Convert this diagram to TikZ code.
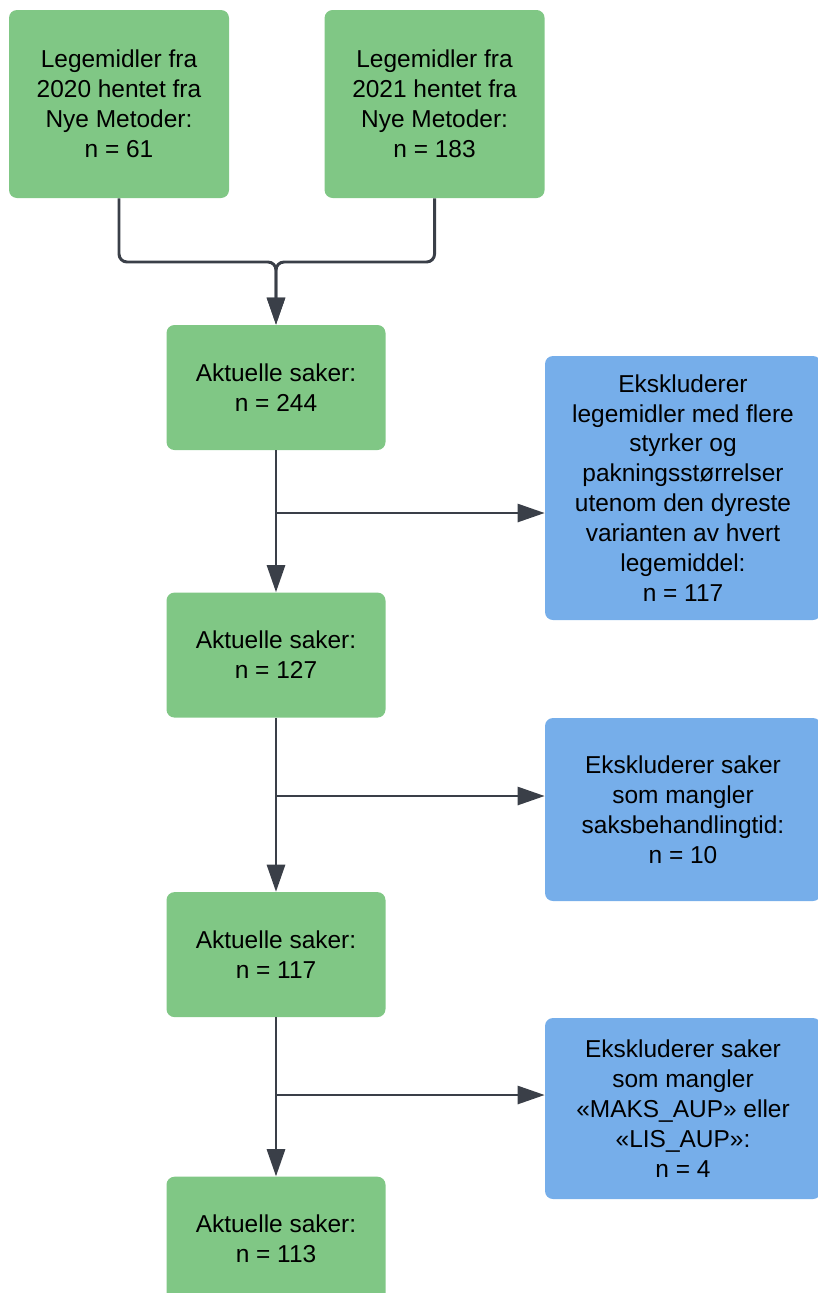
\documentclass[tikz,border=0pt]{standalone}
\usepackage{fontspec}
\setmainfont{Liberation Sans}
\usepackage{tikz}
\usetikzlibrary{arrows.meta, positioning}

\definecolor{boxgreen}{HTML}{80C785}
\definecolor{boxblue}{HTML}{76AEEA}
\definecolor{linegray}{HTML}{3A3F48}

\begin{document}
\begin{tikzpicture}[
    node distance=2.375cm,
    greenbox/.style={fill=boxgreen, rounded corners=0.2cm, minimum width=5.475cm, minimum height=3.125cm, align=center, inner sep=0pt},
    topbox/.style={greenbox, minimum width=5.5cm, minimum height=4.7cm},
    exclbox/.style={fill=boxblue, rounded corners=0.2cm, minimum width=6.9cm, align=center, inner sep=0pt},
    ar/.style={-{Triangle[length=0.68cm, width=0.45cm]}, line width=2.1pt, draw=linegray},
    ln/.style={line width=2.1pt, draw=linegray},
    font=\fontsize{17.4}{21.3}\selectfont
]
\useasboundingbox (0,0) rectangle (20.45,-32.325);
% sources
\node[topbox] (y2020) at (2.975,-2.6) {Legemidler fra\\2020 hentet fra\\Nye Metoder:\\n = 61};
\node[topbox, right=of y2020] (y2021) {Legemidler fra\\2021 hentet fra\\Nye Metoder:\\n = 183};
% main column
\node[greenbox] (akt1) at (6.9,-9.6875) {Aktuelle saker:\\n = 244};
\node[greenbox, below=3.55cm of akt1] (akt2) {Aktuelle saker:\\n = 127};
\node[greenbox, below=4.35cm of akt2] (akt3) {Aktuelle saker:\\n = 117};
\node[greenbox, below=3.975cm of akt3] (akt4) {Aktuelle saker:\\n = 113};
% exclusions
\node[exclbox, minimum height=6.6cm] (eks1) at (17.075,-12.2) {Ekskluderer\\legemidler med flere\\styrker og\\pakningsstørrelser\\utenom den dyreste\\varianten av hvert\\legemiddel:\\n = 117};
\node[exclbox, minimum height=4.575cm] (eks2) at (17.075,-20.2375) {Ekskluderer saker\\som mangler\\saksbehandlingtid:\\n = 10};
\node[exclbox, minimum height=4.525cm] (eks3) at (17.075,-27.7125) {Ekskluderer saker\\som mangler\\«MAKS\_AUP» eller\\«LIS\_AUP»:\\n = 4};
% junctions
\coordinate (merge) at (6.9,-6.55);
\coordinate (b1) at (6.9,-12.825);
\coordinate (b2) at (6.9,-19.9);
\coordinate (b3) at (6.9,-27.375);
% merge arrows
\draw[ar, rounded corners=0.2cm] (y2020.south) |- (merge) -- (akt1.north);
\draw[ar, rounded corners=0.2cm] (y2021.south) |- (merge) -- (akt1.north);
% down arrows
\draw[ar] (akt1) -- (akt2);
\draw[ar] (akt2) -- (akt3);
\draw[ar] (akt3) -- (akt4);
% side arrows
\draw[ar] (b1) -- (eks1.west |- b1);
\draw[ar] (b2) -- (eks2.west |- b2);
\draw[ar] (b3) -- (eks3.west |- b3);
\end{tikzpicture}
\end{document}
